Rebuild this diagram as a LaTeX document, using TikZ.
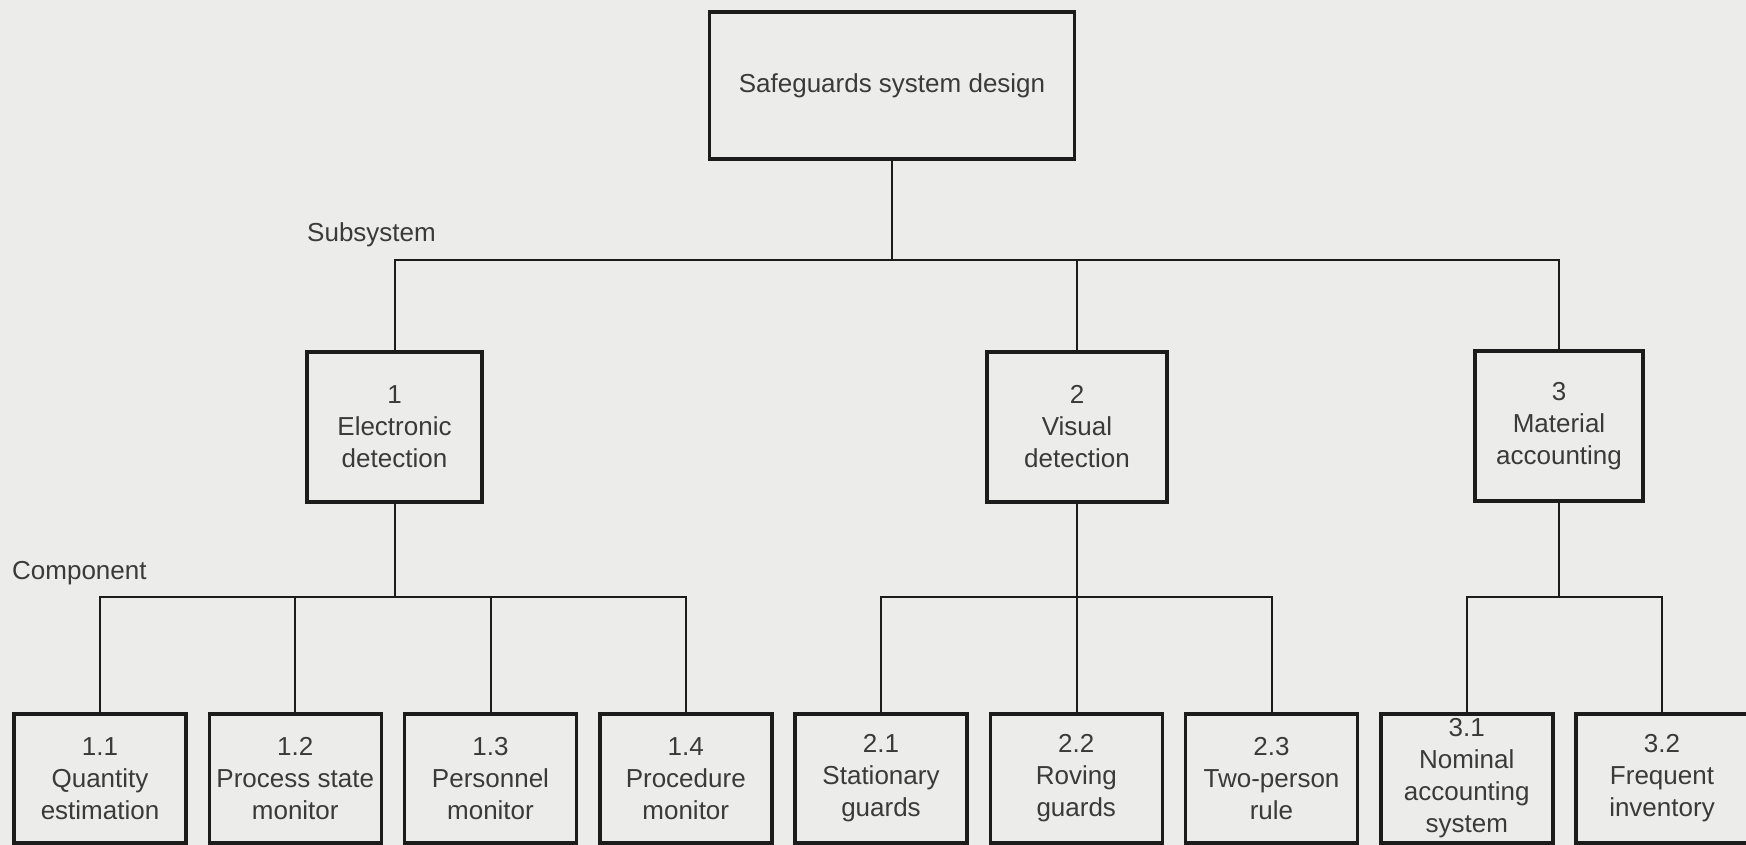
\documentclass[tikz,border=0pt]{standalone}
\usepackage{fontspec}
\setmainfont{Liberation Sans}
\usepackage{xcolor}
\definecolor{sgPaper}{HTML}{ECECEA}
\definecolor{sgInk}{HTML}{1C1C1C}
\definecolor{sgText}{HTML}{3A3A3A}
\usetikzlibrary{positioning}

\begin{document}
\begin{tikzpicture}[
  x=1pt, y=-1pt,
  every node/.style={font=\fontsize{26}{32}\selectfont, text=sgText},
  box/.style={draw=sgInk, line width=3.5pt, align=center, inner sep=2pt},
  sysbox/.style={box, minimum width=175pt, minimum height=150pt},
  compbox/.style={box, minimum width=172pt, minimum height=129pt},
  link/.style={draw=sgInk, line width=2pt},
  node distance=19.75pt,
]
  \fill[sgPaper] (0,0) rectangle (1746,845);
  \useasboundingbox (0,0) rectangle (1746,845);

  % top level
  \node[box, minimum width=365pt, minimum height=147pt] (top) at (892,85.5) {Safeguards system design};

  % subsystems
  \node[anchor=west, inner sep=0pt] (sublbl) at (307,235) {Subsystem};
  \node[sysbox] (elec) at (394.5,427) {1\\Electronic\\detection};
  \node[sysbox, minimum width=180pt] (visual) at (1077,427) {2\\Visual\\detection};
  \node[sysbox, minimum width=168pt] (matl) at (1559,426) {3\\Material\\accounting};

  % components
  \node[anchor=west, inner sep=0pt] (complbl) at (12,573) {Component};
  \node[compbox] (qty) at (100,778.5) {1.1\\Quantity\\estimation};
  \node[compbox, right=of qty] (proc) {1.2\\Process state\\monitor};
  \node[compbox, right=of proc] (pers) {1.3\\Personnel\\monitor};
  \node[compbox, right=of pers] (pcdr) {1.4\\Procedure\\monitor};
  \node[compbox, right=of pcdr] (stat) {2.1\\Stationary\\guards};
  \node[compbox, right=of stat] (rove) {2.2\\Roving\\guards};
  \node[compbox, right=of rove] (twop) {2.3\\Two-person\\rule};
  \node[compbox, right=of twop] (nomi) {3.1\\Nominal\\accounting\\system};
  \node[compbox, right=of nomi] (freq) {3.2\\Frequent\\inventory};

  \coordinate (sysbus) at (0,260);
  \coordinate (compbus) at (0,597);

  % connectors
  \draw[link] (top.south) -- (top.south |- sysbus);
  \draw[link] (elec.north) |- (matl.north |- sysbus) -- (matl.north);
  \draw[link] (visual.north) -- (visual.north |- sysbus);

  \draw[link] (elec.south) -- (elec.south |- compbus);
  \draw[link] (qty.north) |- (pcdr.north |- compbus) -- (pcdr.north);
  \foreach \n in {proc, pers}
    \draw[link] (\n.north) -- (\n.north |- compbus);

  \draw[link] (visual.south) -- (visual.south |- rove.north);
  \draw[link] (stat.north) |- (twop.north |- compbus) -- (twop.north);

  \draw[link] (matl.south) -- (matl.south |- compbus);
  \draw[link] (nomi.north) |- (freq.north |- compbus) -- (freq.north);
\end{tikzpicture}
\end{document}
